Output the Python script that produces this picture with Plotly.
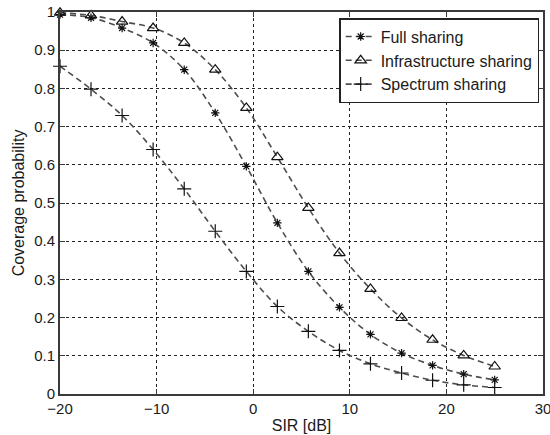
import plotly.graph_objects as go

# SIR values (dB) where markers are drawn
sir_db = [-20, -16.79, -13.57, -10.36, -7.14, -3.93, -0.71, 2.5, 5.71, 8.93,
          12.14, 15.36, 18.57, 21.79, 25]

full_sharing = [0.993, 0.985, 0.958, 0.919, 0.849, 0.736, 0.596, 0.448, 0.321,
                0.227, 0.156, 0.107, 0.075, 0.052, 0.037]
infrastructure_sharing = [0.998, 0.991, 0.975, 0.958, 0.919, 0.849, 0.749, 0.620,
                          0.487, 0.369, 0.275, 0.199, 0.142, 0.101, 0.072]
spectrum_sharing = [0.858, 0.798, 0.729, 0.640, 0.537, 0.426, 0.321, 0.229,
                    0.164, 0.114, 0.079, 0.055, 0.036, 0.024, 0.017]

series_names = ["Full sharing", "Infrastructure sharing", "Spectrum sharing"]
x_ticks = [-20, -10, 0, 10, 20, 30]
y_ticks = [0, 0.1, 0.2, 0.3, 0.4, 0.5, 0.6, 0.7, 0.8, 0.9, 1]

FONT = "Liberation Sans, Arial, sans-serif"
LINE_COL = "#4d4d4d"
MARK_COL = "#111111"

styles = [
    dict(symbol="asterisk-open", size=7),
    dict(symbol="triangle-up-open", size=10),
    dict(symbol="cross-thin-open", size=10),
]

fig = go.Figure()
for name, ys, st in zip(series_names,
                        [full_sharing, infrastructure_sharing, spectrum_sharing],
                        styles):
    fig.add_trace(go.Scatter(
        x=sir_db, y=ys, name=name, mode="lines+markers",
        line=dict(color=LINE_COL, width=1.6, dash="6px,4px", shape="spline", smoothing=1),
        marker=dict(symbol=st["symbol"], size=st["size"], color=MARK_COL,
                    line=dict(color=MARK_COL, width=1.2)),
        cliponaxis=False,
    ))

axis_common = dict(
    showgrid=True, gridcolor="#222222", gridwidth=1, griddash="dot",
    zeroline=False, showline=True, linecolor="#3a3a3a", linewidth=2,
    ticks="inside", ticklen=5, tickcolor="#3a3a3a", tickwidth=1, mirror="ticks",
    tickfont=dict(family=FONT, size=15, color="#1a1a1a"),
    ticklabeloverflow="allow",
)

fig.update_layout(
    width=550, height=435,
    margin=dict(l=60, r=7, t=12, b=41, autoexpand=False),
    paper_bgcolor="white", plot_bgcolor="white",
    font=dict(family=FONT, size=15, color="#1a1a1a"),
    showlegend=True,
    legend=dict(
        x=0.578, y=0.984, xanchor="left", yanchor="top",
        bgcolor="white", bordercolor="#222222", borderwidth=1.5,
        font=dict(family=FONT, size=16, color="#1a1a1a"),
        tracegroupgap=0, itemwidth=30,
    ),
    xaxis=dict(range=[-20, 30], tickvals=x_ticks,
               title=dict(text="SIR [dB]", font=dict(family=FONT, size=16), standoff=4),
               **axis_common),
    yaxis=dict(range=[0, 1], tickvals=y_ticks,
               title=dict(text="Coverage probability", font=dict(family=FONT, size=16), standoff=6),
               **axis_common),
)

# remove the default page margin so the figure sits at the window origin
fig.write_html(
    "out.html",
    config={"displayModeBar": False},
    post_script="document.body.style.margin='0';document.body.style.overflow='hidden';",
)
